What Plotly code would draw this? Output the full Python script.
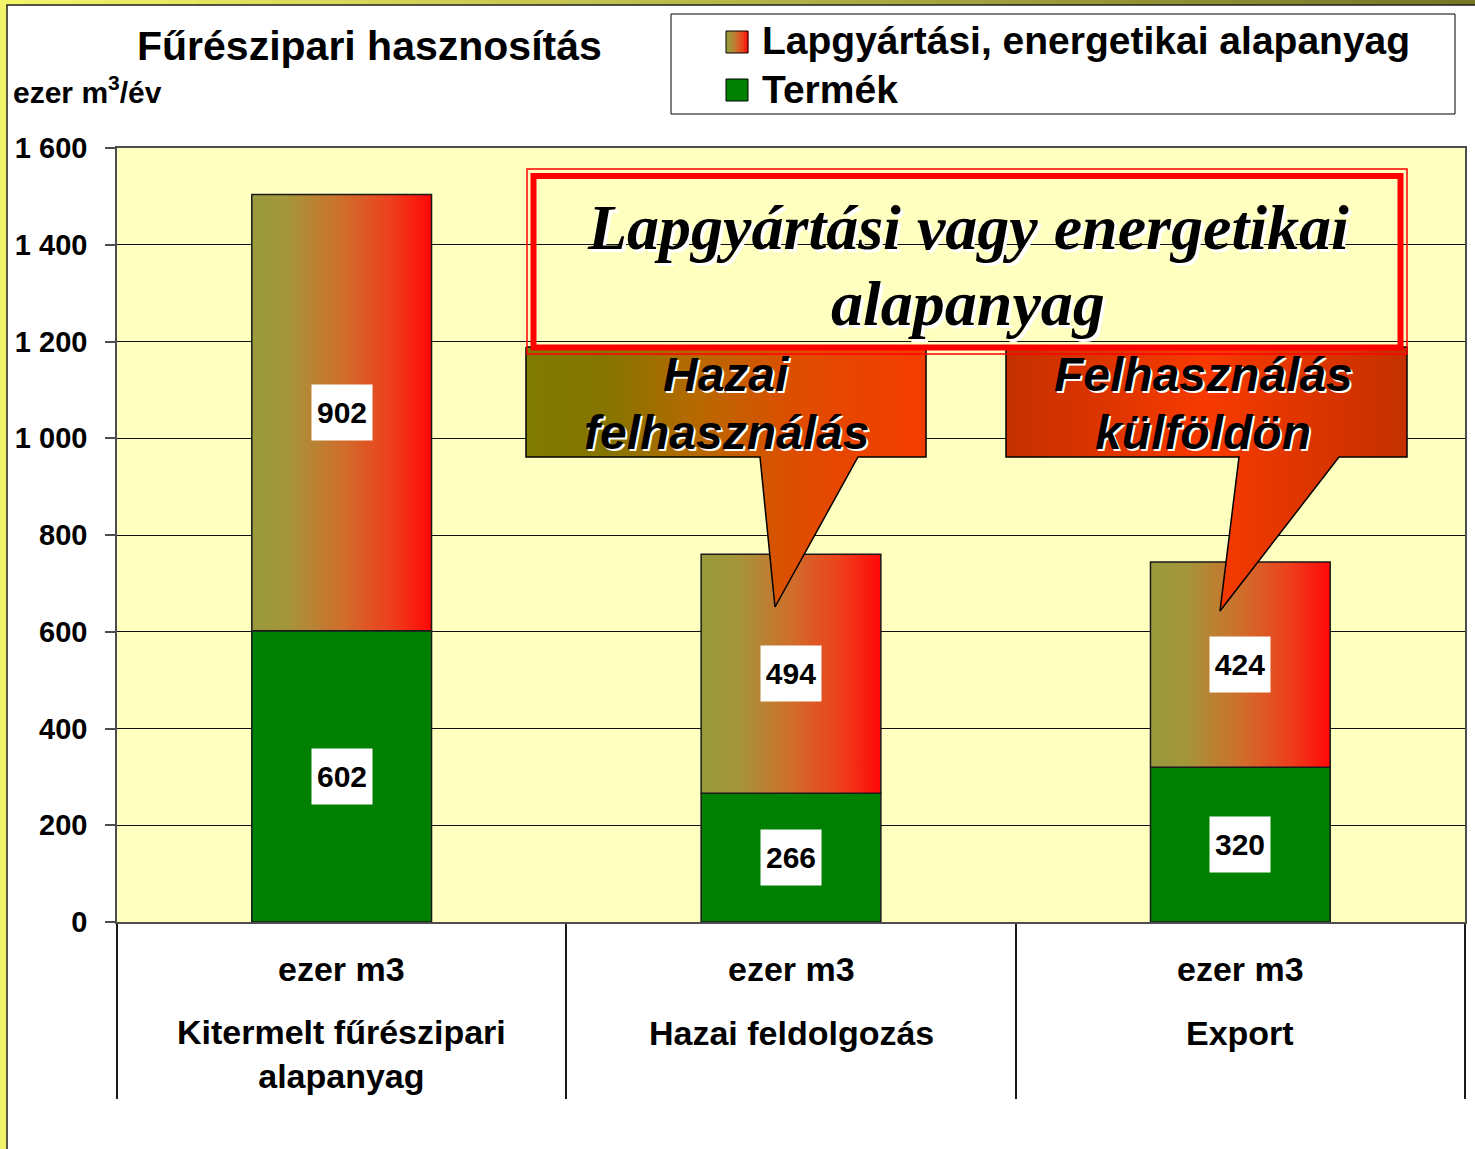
import plotly.graph_objects as go

# ---------------- data ----------------
categories = ["Kitermelt fűrészipari<br>alapanyag", "Hazai feldolgozás", "Export"]
unit_label = "ezer m3"
termek = [602, 266, 320]            # Termék (green)
lapgyartasi = [902, 494, 424]       # Lapgyártási, energetikai alapanyag (gradient)
series_names = ["Lapgyártási, energetikai alapanyag", "Termék"]
title_text = "Fűrészipari hasznosítás"
y_unit = "ezer m<sup>3</sup>/év"
big_note = ["Lapgyártási vagy energetikai", "alapanyag"]
callout_home = ["Hazai", "felhasználás"]
callout_abroad = ["Felhasználás", "külföldön"]

# ---------------- geometry helpers ----------------
W, H = 1475, 1149
PL, PR, PT, PB = 117, 1465, 148, 922      # plot area in pixels
YMAX = 1600
BAR_W = 0.4


def px(x):
    return x / W


def py(y):
    return 1 - y / H


def dx(x):   # pixel -> data x
    return (x - PL) / ((PR - PL) / 3) - 0.5


def dy(y):   # pixel -> data y
    return (PB - y) * YMAX / (PB - PT)


SANS = "Liberation Sans, Arial, sans-serif"
SERIF = "Liberation Serif, Times New Roman, serif"

bar_scale = [[0, '#999A3C'], [0.2, '#A4963A'], [0.5, '#CF6E2C'], [0.78, '#EE3E1C'], [1, '#FF0808']]


def hex2rgb(h):
    h = h.lstrip('#')
    return tuple(int(h[i:i + 2], 16) for i in (0, 2, 4))


def scale_color(scale, t):
    for (a, ca), (b, cb) in zip(scale[:-1], scale[1:]):
        if a <= t <= b:
            f = (t - a) / (b - a) if b > a else 0
            r1, g1, b1 = hex2rgb(ca)
            r2, g2, b2 = hex2rgb(cb)
            return 'rgb(%d,%d,%d)' % (r1 + (r2 - r1) * f, g1 + (g2 - g1) * f, b1 + (b2 - b1) * f)
    return scale[-1][1]


fig = go.Figure()

# green bars
fig.add_trace(go.Bar(
    x=list(range(len(categories))), y=termek, width=BAR_W,
    marker=dict(color='#008000', line=dict(color='#1a1a1a', width=1.5)),
    name=series_names[1], showlegend=False, hoverinfo='skip'))

# gradient segments (stacked on top of green)
for i, (t, l) in enumerate(zip(termek, lapgyartasi)):
    x0, x1 = i - BAR_W / 2, i + BAR_W / 2
    fig.add_trace(go.Scatter(
        x=[x0, x1, x1, x0, x0], y=[t, t, t + l, t + l, t],
        mode='lines', fill='toself',
        fillgradient=dict(type='horizontal', colorscale=bar_scale),
        line=dict(color='#1a1a1a', width=1.5),
        name=series_names[0], showlegend=False, hoverinfo='skip'))

# callouts
home_poly = [(526, 347), (926, 347), (926, 457), (858, 457), (775, 607), (760, 457), (526, 457), (526, 347)]
abroad_poly = [(1006, 347), (1407, 347), (1407, 457), (1339, 457), (1220, 611), (1239, 457), (1006, 457), (1006, 347)]
home_scale = [[0, '#807C00'], [0.2, '#857500'], [0.435, '#B86800'], [0.685, '#E04C00'], [1, '#F53C00']]
abroad_scale = [[0, '#C43000'], [0.5, '#F83A00'], [1, '#C43000']]
for poly, sc in [(home_poly, home_scale), (abroad_poly, abroad_scale)]:
    fig.add_trace(go.Scatter(
        x=[dx(p[0]) for p in poly], y=[dy(p[1]) for p in poly],
        mode='lines', fill='toself',
        fillgradient=dict(type='horizontal', colorscale=sc),
        line=dict(color='#000000', width=1.5),
        showlegend=False, hoverinfo='skip'))

annotations = []
shapes = []

# value labels
for i, (t, l) in enumerate(zip(termek, lapgyartasi)):
    for yv, v in [(t / 2, t), (t + l / 2, l)]:
        annotations.append(dict(
            x=i, y=yv, xref='x', yref='y', text=str(v), showarrow=False,
            font=dict(family=SANS, size=30, color='black', weight='bold'),
            bgcolor='white', width=60, height=55, borderpad=0))

# category labels below axis
CAT_FONT = dict(family=SANS, size=34, color='black', weight='bold')
for i, c in enumerate(categories):
    annotations.append(dict(
        x=i, y=py(969), xref='x', yref='paper', text=unit_label, showarrow=False,
        yanchor='middle', font=CAT_FONT))
    nlines = c.count('<br>') + 1
    if nlines == 1:
        annotations.append(dict(
            x=i, y=py(1033), xref='x', yref='paper', text=c, showarrow=False,
            yanchor='middle', font=CAT_FONT))
    else:
        annotations.append(dict(
            x=i, y=py(1011), xref='x', yref='paper', text=c, showarrow=False,
            yanchor='top', font=CAT_FONT))

# title and unit
annotations.append(dict(x=px(369), y=py(46), xref='paper', yref='paper', text=title_text,
                        showarrow=False, xanchor='center', yanchor='middle',
                        font=dict(family=SANS, size=41, color='black', weight='bold')))
annotations.append(dict(x=px(11), y=py(90), xref='paper', yref='paper', text=y_unit,
                        showarrow=False, xanchor='left', yanchor='middle',
                        font=dict(family=SANS, size=30, color='black', weight='bold')))

# big note
for txt, yy in zip(big_note, [227, 303]):
    annotations.append(dict(x=px(968), y=py(yy), xref='paper', yref='paper', text=txt,
                            showarrow=False, xanchor='center', yanchor='middle',
                            font=dict(family=SERIF, size=64, color='black', weight='bold',
                                      style='italic', shadow='3px 3px 0px #ffffff')))
# callout texts
for lines, cx in [(callout_home, 726), (callout_abroad, 1203)]:
    for txt, yy in zip(lines, [375, 432]):
        annotations.append(dict(x=px(cx), y=py(yy), xref='paper', yref='paper', text=txt,
                                showarrow=False, xanchor='center', yanchor='middle',
                                font=dict(family=SANS, size=48, color='black', weight='bold',
                                          style='italic', shadow='2px 2px 0px #ffffff')))

# legend
shapes.append(dict(type='rect', xref='paper', yref='paper', x0=px(671), x1=px(1455),
                   y0=py(14), y1=py(114), line=dict(color='black', width=1), fillcolor='white'))
NSTEP = 11
for k in range(NSTEP):
    shapes.append(dict(type='rect', xref='paper', yref='paper',
                       x0=px(726 + 22 * k / NSTEP), x1=px(726 + 22 * (k + 1) / NSTEP + 0.3),
                       y0=py(31), y1=py(53), line=dict(width=0),
                       fillcolor=scale_color(bar_scale, (k + 0.5) / NSTEP)))
shapes.append(dict(type='rect', xref='paper', yref='paper', x0=px(726), x1=px(748),
                   y0=py(31), y1=py(53), line=dict(color='black', width=1)))
shapes.append(dict(type='rect', xref='paper', yref='paper', x0=px(726), x1=px(748),
                   y0=py(79), y1=py(101), line=dict(color='black', width=1), fillcolor='#008000'))
annotations.append(dict(x=px(760), y=py(41), xref='paper', yref='paper', text=series_names[0],
                        showarrow=False, xanchor='left', yanchor='middle',
                        font=dict(family=SANS, size=39, color='black', weight='bold')))
annotations.append(dict(x=px(760), y=py(90), xref='paper', yref='paper', text=series_names[1],
                        showarrow=False, xanchor='left', yanchor='middle',
                        font=dict(family=SANS, size=39, color='black', weight='bold')))

# red double frame around the big note
shapes.append(dict(type='rect', xref='paper', yref='paper', x0=px(527), x1=px(1407),
                   y0=py(169), y1=py(354), line=dict(color='#FF0000', width=1.5), layer='above'))
shapes.append(dict(type='rect', xref='paper', yref='paper', x0=px(533.5), x1=px(1400.5),
                   y0=py(176), y1=py(347.5), line=dict(color='#FF0000', width=6), layer='above'))

# page frame: yellow strips and dark border
shapes.append(dict(type='rect', xref='paper', yref='paper', x0=0, x1=px(7), y0=0, y1=1,
                   line=dict(width=0), fillcolor='#F4F46A', layer='below'))
top_scale = [[0, '#F6F66A'], [1, '#767626']]
NTOP = 60
for k in range(NTOP):
    shapes.append(dict(type='rect', xref='paper', yref='paper',
                       x0=k / NTOP, x1=(k + 1) / NTOP + 0.001, y0=py(5), y1=1,
                       line=dict(width=0), fillcolor=scale_color(top_scale, (k + 0.5) / NTOP),
                       layer='below'))
shapes.append(dict(type='rect', xref='paper', yref='paper', x0=px(7), x1=px(1490),
                   y0=py(5), y1=py(1170), line=dict(color='#202020', width=1.5), layer='below'))

fig.update_layout(
    width=W, height=H,
    margin=dict(l=0, r=0, t=0, b=0, pad=0, autoexpand=False),
    paper_bgcolor='white', plot_bgcolor='#FFFFC0',
    separators=', ',
    showlegend=False,
    barmode='overlay',
    annotations=annotations, shapes=shapes,
    xaxis=dict(domain=[px(PL), px(PR)], range=[-0.5, 2.5], showgrid=False, zeroline=False,
               automargin=False,
               tickmode='array', tickvals=[-0.5, 0.5, 1.5, 2.5], ticks='outside', ticklen=175,
               tickcolor='#1a1a1a', tickwidth=1.5, showticklabels=False,
               showline=True, linecolor='#4d4d4d', linewidth=2, mirror=True),
    yaxis=dict(domain=[py(PB), py(PT)], range=[0, YMAX], dtick=200, tick0=0,
               automargin=False,
               tickformat=',', showgrid=True, gridcolor='#111111', gridwidth=1, zeroline=False,
               ticks='outside', ticklen=10, tickcolor='#4d4d4d', tickwidth=1.5,
               ticklabelstandoff=12,
               tickfont=dict(family=SANS, size=29, color='black', weight='bold'),
               showline=True, linecolor='#4d4d4d', linewidth=1.5, mirror=True),
)

fig.write_html("out.html", config={'displayModeBar': False},
               post_script="document.body.style.margin='0';")
